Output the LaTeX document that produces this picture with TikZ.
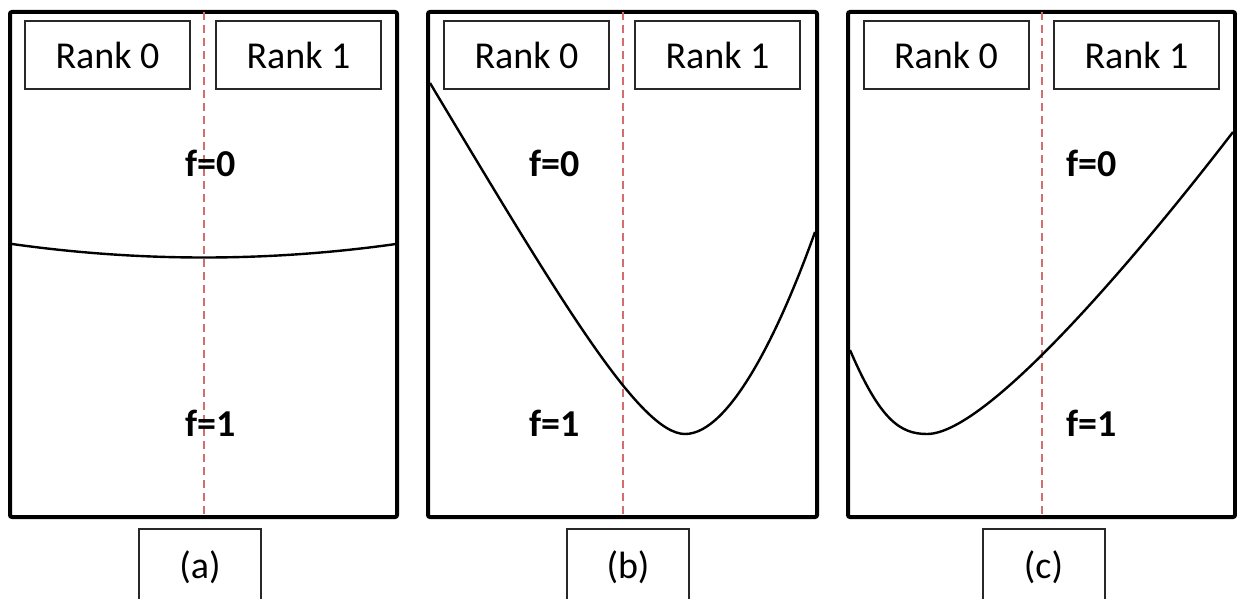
\documentclass[tikz,border=0pt]{standalone}
\usepackage{fontspec}
\setmainfont{Carlito}
\usetikzlibrary{positioning}
\definecolor{splitcolor}{RGB}{210, 110, 110}
\definecolor{boxcolor}{RGB}{40, 40, 40}

\begin{document}
\begin{tikzpicture}[x=0.5pt, y=-0.5pt,
    panel/.style={draw=black, line width=2pt, rounded corners=1pt},
    rankbox/.style={rectangle, draw=boxcolor, line width=1pt, minimum width=82.5pt,
                    minimum height=34pt, inner sep=0pt, font=\fontsize{19}{23}\selectfont},
    caption/.style={rectangle, draw=boxcolor, line width=1pt, minimum width=61pt,
                    minimum height=38pt, inner sep=0pt, font=\fontsize{19}{23}\selectfont},
    phase/.style={inner sep=0pt, font=\fontsize{19}{23}\selectfont\bfseries},
    split/.style={splitcolor, line width=1pt, dash pattern=on 4pt off 2.5pt},
    front/.style={black, line width=1.2pt}
]
\useasboundingbox (0,0) rectangle (1237,599);

% Panel (a)
\draw[panel] (10,12) rectangle (397,517);
\draw[split] (204,12) -- (204,517);
\node[rankbox] (ra0) at (107.5,55) {Rank 0};
\node[rankbox] (ra1) at (298.5,55) {Rank 1};
\node[phase] (fa0) at (211,163) {f=0};
\node[phase] (fa1) at (211,423) {f=1};
\draw[front] (12,244) .. controls (140,262) and (268,262) .. (396,244);
\node[caption] (capa) at (200,567) {(a)};

% Panel (b)
\draw[panel] (428,12) rectangle (817,517);
\draw[split] (623,12) -- (623,517);
\node[rankbox] (rb0) at (526.5,55) {Rank 0};
\node[rankbox] (rb1) at (717.5,55) {Rank 1};
\node[phase] (fb0) at (555,163) {f=0};
\node[phase] (fb1) at (555,423) {f=1};
\draw[front] (430,83) .. controls (560,300) and (640,434) .. (685,434)
                      .. controls (730,434) and (780,330) .. (815,232);
\node[caption] (capb) at (628,567) {(b)};

% Panel (c)
\draw[panel] (848,12) rectangle (1235,517);
\draw[split] (1042,12) -- (1042,517);
\node[rankbox] (rc0) at (946,55) {Rank 0};
\node[rankbox] (rc1) at (1136.5,55) {Rank 1};
\node[phase] (fc0) at (1092,163) {f=0};
\node[phase] (fc1) at (1092,423) {f=1};
\draw[front] (850,350) .. controls (880,420) and (900,434) .. (927,434)
                       .. controls (990,434) and (1150,240) .. (1233,132);
\node[caption] (capc) at (1043.5,567) {(c)};

\end{tikzpicture}
\end{document}
